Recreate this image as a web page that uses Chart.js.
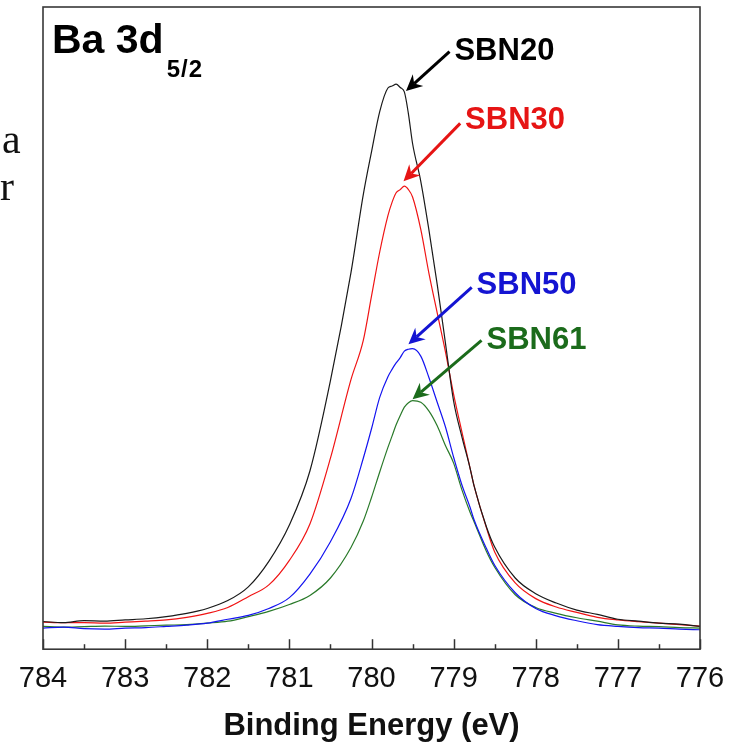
<!DOCTYPE html>
<html>
<head>
<meta charset="utf-8">
<script src="https://cdn.jsdelivr.net/npm/chart.js@4.4.1/dist/chart.umd.min.js"></script>
<style>
  html, body { margin: 0; padding: 0; background: #fff; }
  canvas { display: block; }
</style>
</head>
<body>
<canvas id="c" width="742" height="742"></canvas>
<script>
// Binding energy grid (eV) shared by all four spectra
const energy = [784, 783.75, 783.5, 783.25, 783, 782.75, 782.5, 782.25, 782, 781.75,
  781.5, 781.25, 781, 780.75, 780.5, 780.25, 780.1, 780, 779.9, 779.8,
  779.75, 779.7, 779.65, 779.6, 779.55, 779.5, 779.4, 779.3, 779.2, 779.1,
  779, 778.9, 778.8, 778.75, 778.6, 778.5, 778.25, 778, 777.75, 777.5,
  777.25, 777, 776.75, 776.5, 776.25, 776];

// Ba 3d5/2 intensity (arb. units)
const sbn20 = [28.2, 27.0, 29.0, 28.5, 29.8, 31.0, 33.2, 36.5, 41.5, 49.5,
  63.5, 89.5, 126.5, 181.5, 273.5, 383.5, 463.0, 506.5, 547.5, 571.5,
  573.5, 575.5, 572.0, 567.5, 545.0, 515.0, 476.5, 426.5, 371.5, 312.0,
  252.5, 216.5, 184.5, 166.0, 124.5, 104.0, 72.5, 56.5, 47.0, 39.8,
  35.5, 30.5, 28.5, 26.5, 25.5, 23.2];

const sbn30 = [27.5, 27.0, 27.0, 26.5, 27.5, 28.5, 29.8, 32.5, 36.5, 42.5,
  53.5, 65.5, 90.5, 127.5, 194.5, 274.5, 314.5, 359.5, 404.5, 441.5,
  455.0, 464.8, 468.0, 471.5, 468.0, 460.5, 427.5, 382.5, 342.5, 303.0,
  259.5, 221.5, 184.5, 166.0, 123.5, 99.0, 67.5, 51.5, 43.0, 37.5,
  32.5, 29.8, 28.0, 26.5, 25.0, 23.5];

const sbn50 = [21.5, 22.5, 21.0, 20.5, 21.5, 22.0, 23.2, 24.5, 26.5, 30.5,
  34.5, 41.5, 52.5, 76.5, 109.5, 153.5, 194.5, 224.5, 256.5, 277.5,
  285.0, 291.5, 297.0, 303.5, 305.5, 306.0, 298.5, 276.5, 251.5, 226.5,
  195.5, 167.5, 144.5, 131.5, 102.5, 85.5, 57.5, 41.5, 34.0, 29.0,
  25.0, 23.2, 22.0, 21.5, 20.5, 19.8];

const sbn61 = [23.2, 22.5, 23.0, 23.5, 23.2, 23.8, 24.5, 25.0, 26.5, 28.5,
  33.2, 38.5, 45.5, 54.8, 72.5, 103.5, 130.5, 154.5, 180.5, 205.5,
  217.0, 228.5, 238.0, 246.5, 251.0, 253.2, 251.5, 242.5, 227.5, 207.5,
  189.5, 162.5, 139.5, 129.5, 99.5, 83.5, 55.5, 42.5, 36.5, 32.0,
  28.5, 24.8, 23.5, 23.0, 22.0, 21.5];

const seriesNames = ['SBN20', 'SBN30', 'SBN50', 'SBN61'];
const seriesValues = [sbn20, sbn30, sbn50, sbn61];
const xTickValues = [784, 783, 782, 781, 780, 779, 778, 777, 776];
const xMinorTickValues = [783.5, 782.5, 781.5, 780.5, 779.5, 778.5, 777.5, 776.5];

const lineColors = ['#1a1a1a', '#f01414', '#1414f0', '#2a7a2a'];
const labelColors = ['#000000', '#e61414', '#1414d2', '#1b6b1b'];

// arrow tip / tail and label anchor, in (eV, intensity)
const callouts = [
  { tip: [779.58, 568.5], tail: [779.05, 608.5], text: [778.99, 599.8] },
  { tip: [779.61, 476.5], tail: [778.92, 535.5], text: [778.86, 529.8] },
  { tip: [779.55, 310.5], tail: [778.78, 368.5], text: [778.72, 361.5] },
  { tip: [779.50, 254.5], tail: [778.66, 314.5], text: [778.60, 305.5] }
];

const SANS = "'Liberation Sans', Arial, Helvetica, sans-serif";

function drawArrow(ctx, x0, y0, x1, y1, color) {
  const ang = Math.atan2(y1 - y0, x1 - x0);
  const head = 18, back = 11, spread = 0.45;
  ctx.strokeStyle = color;
  ctx.fillStyle = color;
  ctx.lineWidth = 3;
  ctx.lineCap = 'butt';
  ctx.beginPath();
  ctx.moveTo(x0, y0);
  ctx.lineTo(x1 - Math.cos(ang) * back, y1 - Math.sin(ang) * back);
  ctx.stroke();
  ctx.beginPath();
  ctx.moveTo(x1, y1);
  ctx.lineTo(x1 - head * Math.cos(ang - spread), y1 - head * Math.sin(ang - spread));
  ctx.lineTo(x1 - back * Math.cos(ang), y1 - back * Math.sin(ang));
  ctx.lineTo(x1 - head * Math.cos(ang + spread), y1 - head * Math.sin(ang + spread));
  ctx.closePath();
  ctx.fill();
}

const decorPlugin = {
  id: 'decor',
  afterDatasetsDraw(chart) {
    const { ctx, chartArea: a, scales } = chart;
    const x = scales.x, y = scales.y;
    ctx.save();

    // inward tick marks on the bottom axis
    ctx.strokeStyle = '#333';
    ctx.lineWidth = 1.5;
    const tick = (v, len) => {
      const px = Math.round(x.getPixelForValue(v)) + 0.5;
      ctx.beginPath();
      ctx.moveTo(px, a.bottom);
      ctx.lineTo(px, a.bottom - len);
      ctx.stroke();
    };
    xTickValues.forEach(v => tick(v, 10));
    xMinorTickValues.forEach(v => tick(v, 5));

    // plot frame
    ctx.strokeStyle = '#383838';
    ctx.lineWidth = 1.6;
    ctx.strokeRect(a.left, a.top, a.right - a.left, a.bottom - a.top);

    // panel title
    ctx.fillStyle = '#000';
    ctx.textBaseline = 'alphabetic';
    ctx.textAlign = 'left';
    ctx.font = `bold 41px ${SANS}`;
    ctx.fillText('Ba 3d', a.left + 9, a.top + 46);
    const w = ctx.measureText('Ba 3d').width;
    ctx.font = `bold 24px ${SANS}`;
    ctx.letterSpacing = '1px';
    ctx.fillText('5/2', a.left + 9 + w + 3, a.top + 70);
    ctx.letterSpacing = '0px';

    // series callouts
    callouts.forEach((c, i) => {
      const tx = x.getPixelForValue(c.tip[0]), ty = y.getPixelForValue(c.tip[1]);
      const sx = x.getPixelForValue(c.tail[0]), sy = y.getPixelForValue(c.tail[1]);
      drawArrow(ctx, sx, sy, tx, ty, labelColors[i]);
      ctx.fillStyle = labelColors[i];
      ctx.font = `bold 31px ${SANS}`;
      ctx.fillText(seriesNames[i], x.getPixelForValue(c.text[0]), y.getPixelForValue(c.text[1]));
    });

    // text of the neighbouring page column
    ctx.fillStyle = '#111';
    ctx.font = "42px 'Liberation Serif', 'Times New Roman', serif";
    ctx.fillText('a', 2, 153);
    ctx.fillText('r', 0, 200);

    ctx.restore();
  }
};

new Chart(document.getElementById('c'), {
  type: 'line',
  data: {
    datasets: seriesValues.map((vals, i) => ({
      label: seriesNames[i],
      data: energy.map((e, k) => ({ x: e, y: vals[k] })),
      borderColor: lineColors[i],
      borderWidth: 1.2,
      pointRadius: 0,
      fill: false,
      tension: 0,
      cubicInterpolationMode: 'monotone'
    }))
  },
  options: {
    responsive: false,
    devicePixelRatio: 1,
    animation: false,
    events: [],
    layout: { padding: { left: 43, right: 42, top: 7, bottom: 0 } },
    plugins: { legend: { display: false }, tooltip: { enabled: false } },
    scales: {
      x: {
        type: 'linear',
        reverse: true,
        min: 776,
        max: 784,
        grid: { display: false, drawTicks: false },
        border: { display: false },
        afterBuildTicks: s => { s.ticks = xTickValues.map(v => ({ value: v })); },
        ticks: {
          color: '#111',
          font: { family: SANS, size: 29 },
          padding: 12,
          maxRotation: 0,
          autoSkip: false
        },
        title: {
          display: true,
          text: 'Binding Energy (eV)',
          color: '#111',
          font: { family: SANS, size: 31, weight: 'bold', lineHeight: 1.0 },
          padding: { top: 3, bottom: 0 }
        }
      },
      y: { display: false, min: 0, max: 654 }
    }
  },
  plugins: [decorPlugin]
});
</script>
</body>
</html>
